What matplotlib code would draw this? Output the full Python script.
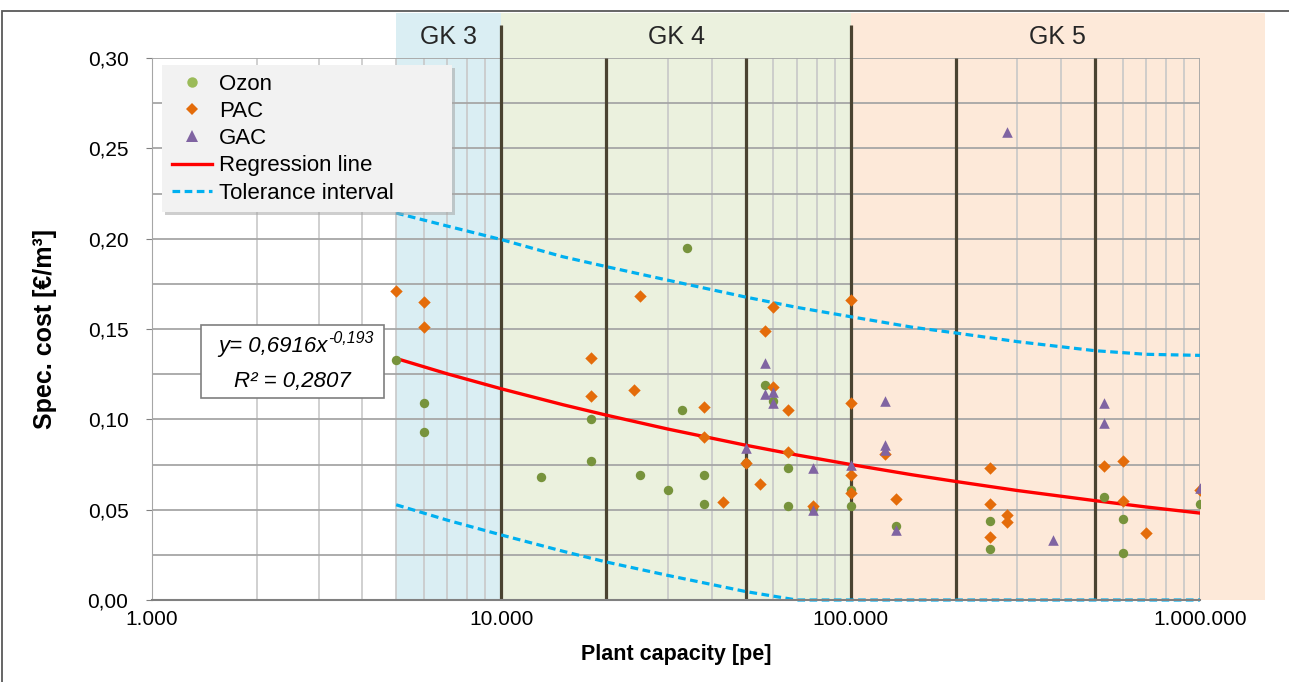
import numpy as np
import matplotlib; matplotlib.use("Agg")
import matplotlib.pyplot as plt
from matplotlib.lines import Line2D
from matplotlib.patches import Rectangle

plt.rcParams["font.family"] = ["Liberation Sans", "DejaVu Sans"]

# scatter data (plant capacity [pe], spec. cost [EUR/m3])
ozon_x = [5000, 6000, 6000, 34000, 18000, 33000, 18000, 13000, 25000, 30000, 38000, 38000,
          50000, 57000, 60000, 66000, 66000, 78000, 100000, 100000, 135000, 250000, 250000,
          530000, 600000, 600000, 1000000]
ozon_y = [0.133, 0.109, 0.093, 0.195, 0.100, 0.105, 0.077, 0.068, 0.069, 0.061, 0.069, 0.053,
          0.076, 0.119, 0.110, 0.073, 0.052, 0.051, 0.061, 0.052, 0.041, 0.044, 0.028,
          0.057, 0.045, 0.026, 0.053]
pac_x = [5000, 6000, 6000, 25000, 18000, 18000, 24000, 38000, 38000, 43000, 50000, 55000,
         60000, 57000, 60000, 66000, 66000, 78000, 100000, 100000, 100000, 100000, 125000,
         135000, 250000, 250000, 250000, 280000, 280000, 530000, 600000, 600000, 700000, 1000000]
pac_y = [0.171, 0.165, 0.151, 0.168, 0.134, 0.113, 0.116, 0.107, 0.090, 0.054, 0.076, 0.064,
         0.162, 0.149, 0.118, 0.105, 0.082, 0.052, 0.166, 0.109, 0.069, 0.059, 0.081,
         0.056, 0.073, 0.053, 0.035, 0.047, 0.043, 0.074, 0.077, 0.055, 0.037, 0.061]
gac_x = [57000, 57000, 60000, 60000, 50000, 78000, 78000, 100000, 125000, 125000, 125000,
         135000, 280000, 380000, 530000, 530000, 1000000]
gac_y = [0.131, 0.114, 0.115, 0.109, 0.084, 0.073, 0.050, 0.075, 0.110, 0.086, 0.083,
         0.039, 0.259, 0.033, 0.109, 0.098, 0.062]

# regression and tolerance curves
curve_x = [5000, 7000, 10000, 15000, 20000, 30000, 50000, 70000, 100000, 150000, 200000,
           300000, 500000, 700000, 1000000]
reg_y = [0.1337, 0.1252, 0.1169, 0.1081, 0.1023, 0.0946, 0.0857, 0.0803, 0.0750, 0.0693,
         0.0656, 0.0606, 0.0550, 0.0515, 0.0481]
tol_hi = [0.2142, 0.2070, 0.1995, 0.1900, 0.1845, 0.1770, 0.1677, 0.1620, 0.1568, 0.1510,
          0.1478, 0.1430, 0.1380, 0.1360, 0.1354]
tol_lo = [0.0527, 0.0442, 0.0360, 0.0270, 0.0210, 0.0136, 0.0047, 0.0, 0.0, 0.0, 0.0,
          0.0, 0.0, 0.0, 0.0]

# size classes
gk_labels = ["GK 3", "GK 4", "GK 5"]
gk_bounds = [(5000, 10000), (10000, 100000), (100000, 1535000)]
gk_colors = ["#DAEEF3", "#EBF1DE", "#FDE9D9"]
tall_lines = [10000, 100000]
short_lines = [20000, 50000, 200000, 500000]

xticks = [1000, 10000, 100000, 1000000]
xticklabels = ["1.000", "10.000", "100.000", "1.000.000"]
yticks = [0.0, 0.05, 0.10, 0.15, 0.20, 0.25, 0.30]
yticklabels = ["0,00", "0,05", "0,10", "0,15", "0,20", "0,25", "0,30"]

fig = plt.figure(figsize=(12.89, 6.82), dpi=100)
ax = fig.add_axes([152/1289, 1-600/682, 1048/1289, 542/682])
ax.set_xscale("log")
ax.set_xlim(1000, 1000000)
ax.set_ylim(0, 0.30)
ytop = 0.3249

for (a, b), c in zip(gk_bounds, gk_colors):
    ax.axvspan(a, b, ymin=0, ymax=ytop/0.30, color=c, lw=0, zorder=0.1, clip_on=False)
for (a, b), lab in zip(gk_bounds, gk_labels):
    ax.text(np.sqrt(a*b), 0.3116, lab, ha="center", va="center", fontsize=18, color="#262626")

ax.set_axisbelow(True)
ax.set_yticks(np.arange(0, 0.3001, 0.025), minor=True)
ax.grid(which="major", axis="both", color="#A6A6A6", lw=1.3)
ax.grid(which="minor", axis="y", color="#A6A6A6", lw=1.3)
ax.grid(which="minor", axis="x", color="#C8C8C8", lw=1.2)

ax.vlines(tall_lines, 0, 0.3183, color="#4A4331", lw=2.3, zorder=1, clip_on=False)
ax.vlines(short_lines, 0, 0.30, color="#4A4331", lw=2.3, zorder=1)

ax.plot(curve_x, reg_y, color="#FF0000", lw=2.4, zorder=2)
ax.plot(curve_x, tol_hi, color="#00B0F0", lw=2.3, ls=(0, (2.4, 1.4)), zorder=2)
ax.plot(curve_x, tol_lo, color="#00B0F0", lw=2.3, ls=(0, (2.4, 1.4)), zorder=2, clip_on=False)

ax.scatter(ozon_x, ozon_y, s=46, marker="o", color="#77933C", lw=0, zorder=3)
ax.scatter(pac_x, pac_y, s=40, marker="D", color="#E46C0A", lw=0, zorder=3)
ax.scatter(gac_x, gac_y, s=58, marker="^", color="#8064A2", lw=0, zorder=3)

ax.set_xticks(xticks)
ax.set_xticklabels(xticklabels)
ax.set_yticks(yticks)
ax.set_yticklabels(yticklabels)
ax.tick_params(axis="x", which="both", length=0, pad=7, labelsize=15)
ax.tick_params(axis="y", which="major", length=4, color="#808080", pad=13, labelsize=15)
ax.tick_params(axis="y", which="minor", length=0)
for s in ["top", "right"]:
    ax.spines[s].set_visible(False)
ax.spines["left"].set_color("#A6A6A6")
ax.spines["bottom"].set_color("#808080")
ax.spines["bottom"].set_linewidth(1.5)
ax.set_xlabel("Plant capacity [pe]", fontsize=15.5, fontweight="bold", labelpad=11)
ax.set_ylabel("Spec. cost [€/m³]", fontsize=18, fontweight="bold", labelpad=22)

# legend box with shadow, entries on top
ax.add_patch(Rectangle((0.0125, 0.7105), 0.2768, 0.271, transform=ax.transAxes,
                       facecolor="#A6A6A6", alpha=0.55, lw=0, zorder=4.5))
ax.add_patch(Rectangle((0.0095, 0.716), 0.2768, 0.271, transform=ax.transAxes,
                       facecolor="#F2F2F2", lw=0, zorder=4.6))
handles = [
    Line2D([], [], ls="none", marker="o", ms=7.5, color="#9BBB59", mew=0),
    Line2D([], [], ls="none", marker="D", ms=6.5, color="#E46C0A", mew=0),
    Line2D([], [], ls="none", marker="^", ms=8.5, color="#8064A2", mew=0),
    Line2D([], [], color="#FF0000", lw=2.4),
    Line2D([], [], color="#00B0F0", lw=2.3, ls=(0, (2.4, 1.4))),
]
leg = ax.legend(handles, ["Ozon", "PAC", "GAC", "Regression line", "Tolerance interval"],
                loc="upper left", bbox_to_anchor=(0.0191, 0.9708), borderaxespad=0,
                fontsize=16, handlelength=1.8, handletextpad=0.32, labelspacing=0.28,
                borderpad=0, frameon=False)
leg.set_zorder(5)

# regression equation box
ax.add_patch(Rectangle((0.0468, 0.3727), 0.1746, 0.1347, transform=ax.transAxes,
                       facecolor="white", edgecolor="#7F7F7F", lw=1.2, zorder=5))
ax.text(0.168, 0.4576, "y= 0,6916x", transform=ax.transAxes, ha="right", va="baseline",
        fontsize=16, style="italic", zorder=6)
ax.text(0.1685, 0.4745, "-0,193", transform=ax.transAxes, ha="left", va="baseline",
        fontsize=11.5, style="italic", zorder=6)
ax.text(0.1336, 0.404, "R² = 0,2807", transform=ax.transAxes, ha="center", va="center",
        fontsize=16, style="italic", zorder=6)

fig.add_artist(Rectangle((2/1289, -0.1), 1.2, 1.1 - 11/682, transform=fig.transFigure,
                         fill=False, edgecolor="#595959", lw=1.3))

fig.savefig("out.png", dpi=100)
